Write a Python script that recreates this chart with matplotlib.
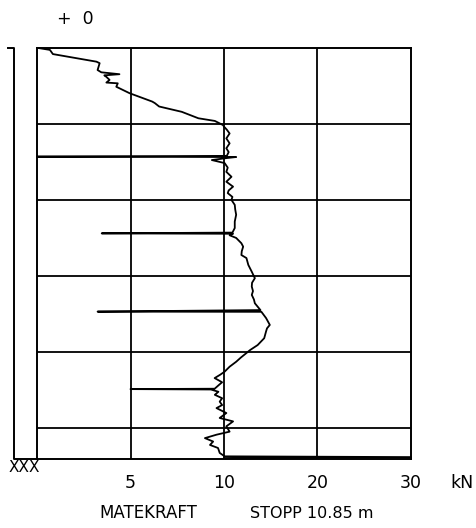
import numpy as np
import matplotlib
matplotlib.use("Agg")
import matplotlib.pyplot as plt

# ---- data ----
tick_values = [5, 10, 20, 30]
tick_labels = ["5", "10", "20", "30"]
scale_breaks = [0, 5, 10, 20, 30]
grid_depths = [2, 4, 6, 8, 10]
grid_forces = [5, 10, 20]
stop_depth = 10.82

depth = [0.00, 0.05, 0.16, 0.36, 0.40, 0.58, 0.64, 0.69, 0.72, 0.76, 0.84, 0.91, 0.93,
         1.02, 1.19, 1.41, 1.45, 1.54, 1.68, 1.85, 1.92, 2.03, 2.07, 2.15, 2.25, 2.38,
         2.51, 2.64, 2.74, 2.84, 2.86, 2.87, 2.90, 2.95, 3.03, 3.15, 3.26, 3.39, 3.52,
         3.65, 3.75, 3.82, 3.92, 4.00, 4.13, 4.25, 4.39, 4.57, 4.74, 4.86, 4.88, 4.89,
         4.93, 5.00, 5.14, 5.23, 5.35, 5.45, 5.53, 5.71, 5.89, 6.06, 6.18, 6.28, 6.40,
         6.50, 6.62, 6.72, 6.90, 6.94, 6.945, 7.11, 7.29, 7.38, 7.46, 7.64, 7.82, 7.95,
         8.03, 8.15, 8.26, 8.39, 8.52, 8.60, 8.69, 8.80, 8.87, 8.97, 8.98, 8.99, 9.05,
         9.13, 9.22, 9.31, 9.40, 9.48, 9.61, 9.74, 9.83, 9.96, 10.10, 10.18, 10.27,
         10.36, 10.45, 10.53, 10.66, 10.75, 10.77, 10.80]
force = [0.07, 0.69, 0.85, 3.18, 3.35, 3.24, 3.44, 4.41, 3.60, 3.71, 3.88, 3.71, 4.32,
         4.24, 4.95, 6.16, 6.30, 6.53, 7.74, 8.63, 9.51, 9.95, 10.0, 10.3, 10.6, 10.25,
         10.6, 10.25, 10.5, 10.3, 0.0, 11.3, 10.2, 9.35, 10.07, 10.4, 10.25, 10.8, 10.25,
         10.97, 10.5, 10.4, 10.9, 10.8, 11.15, 11.2, 11.3, 11.15, 11.15, 10.9, 3.46, 10.97,
         10.6, 11.3, 11.86, 12.05, 11.9, 11.86, 12.4, 12.6, 12.97, 13.3, 13.0, 12.97, 13.1,
         12.97, 13.2, 13.3, 13.9, 3.24, 14.0, 14.5, 14.9, 14.6, 14.5, 14.3, 13.6, 12.8,
         12.4, 11.8, 11.3, 10.6, 10.07, 9.8, 9.5, 9.9, 9.73, 9.5, 5.0, 9.3, 9.7,
         9.51, 9.9, 9.77, 9.9, 9.6, 10.25, 9.77, 10.97, 10.25, 10.6, 9.6, 8.98,
         9.42, 9.25, 9.68, 9.77, 10.07, 30.0, 10.0]

W, H = 477, 528
fig = plt.figure(figsize=(W / 100, H / 100), dpi=100)
ax = fig.add_axes([37 / W, 1 - 459 / H, (411 - 37) / W, (459 - 48) / H])

seg = list(range(len(scale_breaks)))
fwd = lambda x: np.interp(x, scale_breaks, seg)
inv = lambda y: np.interp(y, seg, scale_breaks)
ax.set_xscale("function", functions=(fwd, inv))
ax.set_xlim(0, 30)
ax.set_ylim(stop_depth, 0)

for g in grid_forces:
    ax.axvline(g, color="black", lw=1.3, zorder=1)
for g in grid_depths:
    ax.axhline(g, color="black", lw=1.3, zorder=1)

ax.plot(force, depth, color="black", lw=1.3, zorder=3, clip_on=False)

for s in ax.spines.values():
    s.set_linewidth(1.4)
ax.set_xticks(tick_values)
ax.set_xticklabels(tick_labels, fontsize=12.5)
ax.tick_params(axis="x", length=0, pad=11)
ax.set_yticks([])
ax.xaxis.set_minor_locator(matplotlib.ticker.NullLocator())

# left column
lx = (14 - 37) / (411 - 37)
tx = (8 - 37) / (411 - 37)
ax.plot([tx, lx, lx, 0], [1, 1, 0, 0], transform=ax.transAxes, color="black",
        lw=1.4, clip_on=False)

fig.text(462 / W, 1 - 483 / H, "kN", fontsize=12.5, ha="center", va="center")
fig.text(24 / W, 1 - 467 / H, "XXX", fontsize=11, ha="center", va="center")
fig.text(75 / W, 1 - 19 / H, "+  0", fontsize=12.5, ha="center", va="center")
fig.text(148 / W, 1 - 513 / H, "MATEKRAFT", fontsize=12, ha="center", va="center")
fig.text(312 / W, 1 - 513 / H, "STOPP 10.85 m", fontsize=11.5, ha="center", va="center")

fig.savefig("out.png", dpi=100)
